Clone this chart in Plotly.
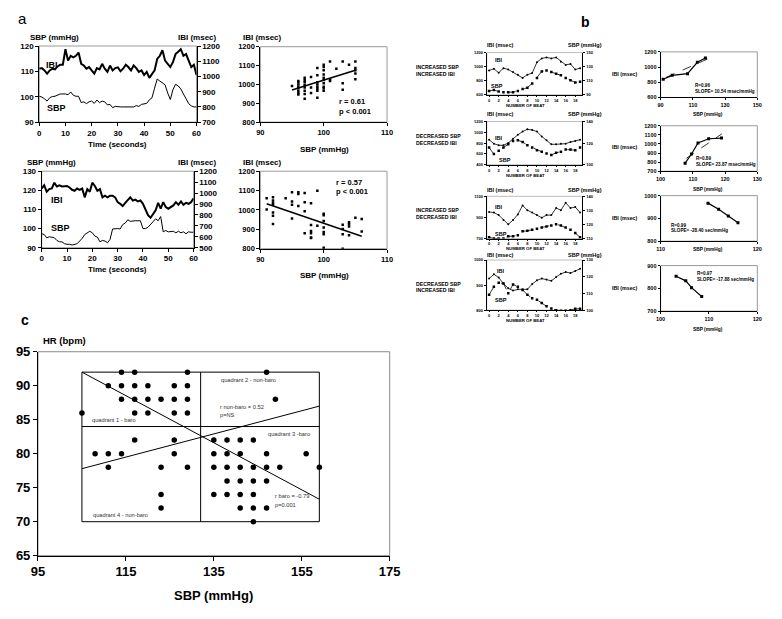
import plotly.graph_objects as go

W, H = 782, 619
FONT = "Liberation Sans, Arial, Helvetica, sans-serif"

# ======================= DATA =======================
# ---- Panel a: time series (1 s samples) ----
a_time = list(range(0, 61))
a_top_ibi = [1051, 1055, 1040, 1019, 1040, 1051, 1047, 1066, 1077, 1077,
             1179, 1104, 1136, 1126, 1136, 1157, 1083, 1072, 1051, 1062,
             1040, 1019, 1055, 1047, 1083, 1051, 1030, 1072, 1040, 1055,
             1060, 1034, 1051, 1077, 1062, 1040, 1072, 1055, 1030, 1040,
             1009, 1030, 991, 1019, 1040, 1115, 1136, 1172, 1104, 1083,
             1062, 1094, 1147, 1162, 1179, 1136, 1147, 1104, 1062, 1077,
             1009]
a_top_sbp = [100.2, 99.9, 99.2, 98.3, 99.6, 100.1, 100.2, 100.8, 101.1, 101.1,
             101.1, 100.8, 101.9, 100.6, 100.2, 100.2, 97.7, 98.0, 97.3, 98.0,
             98.3, 97.4, 98.7, 97.7, 98.3, 98.0, 96.8, 97.0, 95.7, 96.2,
             96.0, 96.0, 96.0, 96.0, 96.0, 96.0, 96.0, 96.5, 96.2, 97.0,
             97.3, 97.4, 98.8, 99.6, 103.4, 107.0, 106.2, 105.3, 104.7, 101.5,
             98.9, 102.8, 104.9, 104.3, 103.1, 101.1, 99.2, 97.3, 96.4, 96.0,
             96.0]
a_bot_ibi = [1042, 1071, 1012, 1036, 1042, 1095, 1060, 1071, 1060, 1060,
             1065, 1051, 1030, 1021, 1042, 1030, 1042, 961, 1036, 1012,
             1095, 1065, 1021, 1036, 961, 976, 961, 976, 976, 961,
             917, 902, 881, 911, 932, 961, 932, 940, 923, 932,
             902, 842, 798, 774, 804, 842, 911, 857, 917, 872,
             857, 872, 887, 917, 893, 923, 893, 911, 902, 917,
             952]
a_bot_sbp = [97.3, 96.9, 95.2, 95.7, 95.5, 95.2, 93.8, 93.1, 93.1, 92.1,
             91.8, 91.8, 91.4, 91.8, 92.1, 93.5, 94.9, 96.9, 97.8, 98.6,
             97.8, 96.1, 95.5, 93.1, 93.8, 93.5, 92.6, 94.3, 99.8, 100.0,
             100.0, 99.8, 102.1, 102.9, 104.6, 103.8, 104.1, 104.1, 104.1, 104.1,
             100.0, 100.0, 100.7, 102.1, 103.4, 105.1, 104.1, 106.3, 98.3, 99.0,
             98.3, 98.3, 98.6, 97.8, 98.6, 97.8, 98.3, 97.3, 98.3, 98.1,
             98.1]

# ---- Panel a: scatter plots ----
a_sc1_sbp = [95, 96, 96, 96, 96, 96, 96, 96, 96, 97, 97, 97, 97, 97, 97, 97, 97,
             98, 98, 98, 99, 99, 99, 99, 99, 99, 99, 99,
             100, 100, 100, 100, 100, 100, 100, 100, 100, 100,
             101, 101, 101, 102, 103, 103, 103, 104, 105, 105, 105, 105, 105]
a_sc1_ibi = [991, 1018, 1011, 1000, 988, 980, 966, 954, 946, 1035, 1023, 1011, 997, 984, 966, 949, 924,
             1040, 984, 954, 1087, 1049, 1011, 1000, 988, 977, 966, 929,
             1104, 1092, 1075, 1052, 1035, 1023, 1006, 988, 980, 966,
             1121, 1028, 1018, 1083, 1121, 1006, 972, 1104, 1121, 1087, 1075, 1058, 1028]
a_sc1_fit_sbp = [95, 105]
a_sc1_fit_ibi = [970, 1075]

a_sc2_sbp = [91, 91, 92, 92, 92, 92, 92, 92, 92, 94, 95, 95, 95, 95, 96, 96, 96,
             97, 97, 97, 97, 98, 98, 98, 98, 98, 98, 99, 99,
             100, 100, 100, 100, 100, 100, 100, 103, 103, 103, 103,
             104, 104, 104, 104, 105, 106, 106]
a_sc2_ibi = [1061, 1003, 1066, 1049, 1037, 1027, 987, 970, 928, 1061, 1091, 1044, 1027, 956, 1092, 1082, 1020,
             1087, 1040, 993, 880, 1035, 922, 892, 880, 858, 855, 1099, 919,
             981, 973, 943, 909, 886, 875, 805, 923, 902, 875, 800,
             936, 926, 914, 869, 960, 953, 889]
a_sc2_fit_sbp = [91, 106]
a_sc2_fit_ibi = [1032, 864]

# ---- Panel b: beat-by-beat sequences ----
b_beat = list(range(0, 20))
b1_ibi = [946, 969, 914, 978, 960, 923, 886, 840, 886, 909, 1062, 1117, 1131, 1117, 1131, 1071, 1025, 1038, 960, 978]
b1_sbp = [95.5, 96.9, 94.6, 93.7, 93.7, 93.7, 95.5, 98.3, 100.2, 106.2, 114.0, 123.2, 124.6, 122.3, 120.0, 117.7, 114.0, 110.8, 107.5, 108.5]
b2_ibi = [863, 790, 760, 760, 802, 881, 953, 1013, 1055, 1043, 1013, 923, 851, 778, 778, 790, 790, 820, 839, 863]
b2_sbp = [115.9, 109.9, 112.9, 115.9, 118.9, 122.0, 122.6, 121.1, 118.0, 115.9, 113.5, 112.0, 110.5, 109.0, 111.1, 112.0, 114.1, 114.1, 113.5, 115.9]
b3_ibi = [952, 946, 922, 875, 835, 875, 928, 1014, 968, 946, 922, 897, 922, 922, 989, 968, 1038, 989, 998, 946]
b3_sbp = [110.9, 110.0, 110.0, 110.0, 111.6, 111.6, 112.3, 115.1, 115.5, 116.2, 116.9, 117.8, 118.5, 119.2, 120.2, 119.2, 117.8, 116.2, 113.9, 110.9]
b4_ibi = [926, 943, 930, 906, 887, 878, 883, 883, 883, 904, 919, 926, 922, 917, 932, 945, 952, 948, 956, 965]
b4_sbp = [109.2, 114.0, 116.4, 116.0, 110.1, 115.4, 114.0, 112.1, 109.2, 107.2, 106.2, 104.3, 102.3, 101.0, 100.0, 99.6, 99.6, 100.0, 100.8, 100.8]
b_conditions = [("INCREASED SBP", "INCREASED IBI"), ("DECREASED SBP", "DECREASED IBI"),
                ("INCREASED SBP", "DECREASED IBI"), ("DECREASED SBP", "INCREASED IBI")]

# ---- Panel b: sequence regressions ----
r1_sbp = [91.6, 97.2, 106.7, 112.8, 117.8]
r1_ibi = [840, 891, 913, 1063, 1119]
r1_fit_sbp = [93.5, 119]
r1_fit_ibi = [865, 1105]
r2_sbp = [107.6, 109.6, 111.6, 114.9, 118.9]
r2_ibi = [789, 889, 1011, 1057, 1064]
r2_fit_sbp = [108, 119]
r2_fit_ibi = [843, 1111]
r3_sbp = [114.9, 116.0, 117.0, 118.0]
r3_ibi = [967, 940, 911, 881]
r4_sbp = [103.2, 105.2, 106.4, 108.5]
r4_ibi = [853, 833, 803, 764]
r_stats = [("R=0.96", "SLOPE= 10.54 msec/mmHg"), ("R=0.89", "SLOPE= 23.87 msec/mmHg"),
           ("R=0.99", "SLOPE= -28.40 sec/mmHg"), ("R=0.97", "SLOPE= -17.88 sec/mmHg")]

# ---- Panel c: HR vs SBP ----
c_sbp = [105,
         108, 111, 114, 126, 135, 138, 141, 147, 156,
         111, 123, 129, 135, 138, 141, 144, 147, 150, 159,
         114, 117, 129, 147,
         111, 114, 117, 120, 126, 129,
         114, 117, 120, 123, 126, 129, 149,
         117, 120, 126, 129,
         117, 126, 135, 138, 141, 144,
         138, 141, 144, 147,
         123, 135, 138, 141, 144,
         123, 141, 144, 147,
         144]
c_hr = [86,
        80, 80, 80, 80, 80, 80, 80, 80, 80,
        78, 78, 78, 78, 78, 78, 78, 78, 78, 78,
        92, 92, 92, 92,
        90, 90, 90, 90, 90, 90,
        88, 88, 88, 88, 88, 88, 88,
        86, 86, 86, 86,
        82, 82, 82, 82, 82, 82,
        76, 76, 76, 76,
        74, 74, 74, 74, 74,
        72, 72, 72, 72,
        70]
c_box_sbp = [105, 159]
c_box_hr = [70, 92]
c_split_sbp = 132
c_split_hr = 84
c_baro_sbp = [105, 159]
c_baro_hr = [92, 73.3]
c_nonbaro_sbp = [105, 159]
c_nonbaro_hr = [77.8, 87.0]

# ---- tick arrays ----
a_time_ticks = [0, 10, 20, 30, 40, 50, 60]
a_top_sbp_ticks = [90, 100, 110, 120]
a_top_ibi_ticks = [700, 800, 900, 1000, 1100, 1200]
a_bot_sbp_ticks = [90, 100, 110, 120, 130]
a_bot_ibi_ticks = [500, 600, 700, 800, 900, 1000, 1100, 1200]
a_sc_sbp_ticks = [90, 100, 110]
a_sc_ibi_ticks = [800, 900, 1000, 1100, 1200]
b_beat_ticks = [0, 2, 4, 6, 8, 10, 12, 14, 16, 18]
b1_ibi_ticks, b1_sbp_ticks = [600, 800, 1000, 1200], [90, 110, 130, 150]
b2_ibi_ticks, b2_sbp_ticks = [400, 600, 800, 1000, 1200], [100, 120, 140]
b3_ibi_ticks, b3_sbp_ticks = [700, 900, 1100], [110, 120, 130, 140]
b4_ibi_ticks, b4_sbp_ticks = [800, 900, 1000], [100, 110, 120, 130]
r1_sbp_ticks, r1_ibi_ticks = [90, 110, 130, 150], [600, 800, 1000, 1200]
r2_sbp_ticks, r2_ibi_ticks = [100, 110, 120, 130], [700, 800, 900, 1000, 1100, 1200]
r3_sbp_ticks, r3_ibi_ticks = [110, 120], [800, 900, 1000]
r4_sbp_ticks, r4_ibi_ticks = [100, 110, 120], [700, 800, 900]
c_sbp_ticks = [95, 115, 135, 155, 175]
c_hr_ticks = [65, 70, 75, 80, 85, 90, 95]

# ======================= LAYOUT HELPERS =======================
def fx(p):
    return p / W


def fy(p):
    return 1 - p / H


layout = dict(width=W, height=H, margin=dict(l=0, r=0, t=0, b=0), autosize=False,
              paper_bgcolor="white", plot_bgcolor="rgba(0,0,0,0)", showlegend=False,
              font=dict(family=FONT, color="black"))
shapes = []
annotations = []
traces = []
counter = {"x": 0, "y": 0}


def ref(kind, n):
    return kind if n == 1 else f"{kind}{n}"


def key(kind, n):
    return f"{kind}axis" if n == 1 else f"{kind}axis{n}"


def axstyle(ticks, size, rng=None, bold=True, ticklen=3, linecolor="black"):
    return dict(showgrid=False, zeroline=False, showline=True, linecolor=linecolor, linewidth=1,
                ticks="outside", ticklen=ticklen, tickwidth=1, tickcolor="black",
                tickmode="array", tickvals=ticks, ticktext=[str(t) for t in ticks],
                range=rng if rng is not None else [ticks[0], ticks[-1]],
                tickfont=dict(family=FONT, size=size, weight="bold" if bold else "normal", color="black"),
                fixedrange=True)


def subplot(box, xt, yt, size, y2t=None, xrng=None, bold=True, ticklen=3, xticklen=None, frame="#9a9a9a"):
    x0, x1, y0, y1 = box
    counter["x"] += 1
    nx = counter["x"]
    counter["y"] += 1
    ny = counter["y"]
    xa = axstyle(xt, size, xrng, bold, ticklen if xticklen is None else xticklen)
    xa.update(domain=[fx(x0), fx(x1)], anchor=ref("y", ny))
    ya = axstyle(yt, size, None, bold, ticklen)
    ya.update(domain=[fy(y1), fy(y0)], anchor=ref("x", nx))
    layout[key("x", nx)] = xa
    layout[key("y", ny)] = ya
    out = [ref("x", nx), ref("y", ny)]
    if y2t is not None:
        counter["y"] += 1
        n2 = counter["y"]
        y2 = axstyle(y2t, size, None, bold, ticklen)
        y2.update(overlaying=ref("y", ny), side="right", anchor=ref("x", nx))
        layout[key("y", n2)] = y2
        out.append(ref("y", n2))
    if frame:
        shapes.append(dict(type="rect", xref="paper", yref="paper", x0=fx(x0), x1=fx(x1),
                           y0=fy(y1), y1=fy(y0), line=dict(color=frame, width=1), layer="below"))
    return out


def ann(x, y, text, size, bold=True, xanchor="left", color="black"):
    annotations.append(dict(x=fx(x), y=fy(y), xref="paper", yref="paper", text=text, showarrow=False,
                            xanchor=xanchor, yanchor="middle",
                            font=dict(family=FONT, size=size, color=color,
                                      weight="bold" if bold else "normal")))


def line(xr, yr, xs, ys, width=1, dash="solid", mode="lines", msym="square", msize=3, color="black"):
    traces.append(go.Scatter(x=xs, y=ys, xaxis=xr, yaxis=yr, mode=mode, hoverinfo="skip",
                             line=dict(color=color, width=width, dash=dash),
                             marker=dict(symbol=msym, size=msize, color=color)))


# ======================= PANEL a =======================
ann(9, 12, "a", 15, bold=False)
# time series top
xr, yl, yr2 = subplot((33, 194, 40, 118), a_time_ticks, a_top_sbp_ticks, 8, a_top_ibi_ticks)
line(xr, yl, a_time, a_top_sbp, width=1)
line(xr, yr2, a_time, a_top_ibi, width=2)
ann(21, 31.5, "SBP (mmHg)", 8)
ann(173, 31.5, "IBI (msec)", 8)
ann(113.5, 141, "Time (seconds)", 8, xanchor="center")
ann(38, 59, "IBI", 9)
ann(39, 104, "SBP", 9)
# time series bottom
xr, yl, yr2 = subplot((35.5, 191, 168.3, 246.7), a_time_ticks, a_bot_sbp_ticks, 8, a_bot_ibi_ticks)
line(xr, yl, a_time, a_bot_sbp, width=1)
line(xr, yr2, a_time, a_bot_ibi, width=2)
ann(18, 159.8, "SBP (mmHg)", 8)
ann(173, 159.8, "IBI (msec)", 8)
ann(113, 269.5, "Time (seconds)", 8, xanchor="center")
ann(43, 198, "IBI", 9)
ann(43, 226.5, "SBP", 9)
# scatter top
xr, yl = subplot((259.3, 389, 40.7, 118), a_sc_sbp_ticks, a_sc_ibi_ticks, 7.5)
line(xr, yl, a_sc1_sbp, a_sc1_ibi, mode="markers", msize=2.5)
line(xr, yl, a_sc1_fit_sbp, a_sc1_fit_ibi, width=1.5)
ann(240, 31.5, "IBI (msec)", 8)
ann(325, 146, "SBP (mmHg)", 8, xanchor="center")
ann(338, 97.3, "r = 0.61", 7.5)
ann(338, 107.3, "p &lt; 0.001", 7.5)
# scatter bottom
xr, yl = subplot((259.3, 389, 168.3, 247.7), a_sc_sbp_ticks, a_sc_ibi_ticks, 7.5)
line(xr, yl, a_sc2_sbp, a_sc2_ibi, mode="markers", msize=2.5)
line(xr, yl, a_sc2_fit_sbp, a_sc2_fit_ibi, width=1.5)
ann(240, 159.8, "IBI (msec)", 8)
ann(325, 275, "SBP (mmHg)", 8, xanchor="center")
ann(335, 180, "r = 0.57", 7.5)
ann(335, 189.3, "p &lt; 0.001", 7.5)

# ======================= PANEL b =======================
ann(592, 15, "b", 14, xanchor="center")
b_boxes = [(491, 589, 46.7, 90), (491, 589, 117.3, 161.7), (491, 589, 194, 237.3), (491, 589, 259.3, 310.7)]
b_ibi_sets = [b1_ibi, b2_ibi, b3_ibi, b4_ibi]
b_sbp_sets = [b1_sbp, b2_sbp, b3_sbp, b4_sbp]
b_ibi_tk = [b1_ibi_ticks, b2_ibi_ticks, b3_ibi_ticks, b4_ibi_ticks]
b_sbp_tk = [b1_sbp_ticks, b2_sbp_ticks, b3_sbp_ticks, b4_sbp_ticks]
b_title_y = [39, 110, 187.3, 253.8]
b_cond_y = [62, 132, 208.5, 283.5]
b_ibi_lab = [(497, 54.3), (497, 134.3), (497, 205), (500, 270.7)]
b_sbp_lab = [(493, 81), (502, 156.7), (497, 232.3), (497, 300.7)]
for i in range(4):
    xr, yl, yr2 = subplot(b_boxes[i], b_beat_ticks, b_ibi_tk[i], 4, b_sbp_tk[i], xrng=[-0.5, 19.5],
                          ticklen=2, xticklen=1, frame="#bdbdbd")
    line(xr, yl, b_beat, b_ibi_sets[i], width=0.8, mode="lines+markers", msym="circle", msize=2)
    line(xr, yr2, b_beat, b_sbp_sets[i], width=0.8, dash="dash", mode="lines+markers", msym="square", msize=2.5)
    ann(489, b_title_y[i], "IBI (msec)", 5.5)
    ann(572, b_title_y[i], "SBP (mmHg)", 5.5)
    ann(531, b_boxes[i][3] + 10.5, "NUMBER OF BEAT", 4.3, xanchor="center")
    ann(417, b_cond_y[i], b_conditions[i][0], 5.2)
    ann(417, b_cond_y[i] + 7, b_conditions[i][1], 5.2)
    ann(b_ibi_lab[i][0], b_ibi_lab[i][1], "IBI", 5.5)
    ann(b_sbp_lab[i][0], b_sbp_lab[i][1], "SBP", 5.5)

r_boxes = [(669, 768, 46, 92.7), (669, 768, 121.7, 168.3), (669, 768, 193.3, 240), (669, 768, 265, 311.7)]
r_sbp_tk = [r1_sbp_ticks, r2_sbp_ticks, r3_sbp_ticks, r4_sbp_ticks]
r_ibi_tk = [r1_ibi_ticks, r2_ibi_ticks, r3_ibi_ticks, r4_ibi_ticks]
r_sbp_sets = [r1_sbp, r2_sbp, r3_sbp, r4_sbp]
r_ibi_sets = [r1_ibi, r2_ibi, r3_ibi, r4_ibi]
r_fits = [(r1_fit_sbp, r1_fit_ibi), (r2_fit_sbp, r2_fit_ibi), None, None]
r_ylab = [69, 143, 216.5, 288]
r_xlab = [(718, 110), (718, 186.7), (718, 248.5), (718, 330.7)]
r_stat_pos = [(702, 80.7), (703, 155.7), (678, 224), (704, 273.3)]
for i in range(4):
    xr, yl = subplot(r_boxes[i], r_sbp_tk[i], r_ibi_tk[i], 5.5, ticklen=2, frame="#9a9a9a")
    if r_fits[i] is not None:
        line(xr, yl, r_fits[i][0], r_fits[i][1], width=0.8, dash="dash")
    line(xr, yl, r_sbp_sets[i], r_ibi_sets[i], width=1.2, mode="lines+markers", msym="square", msize=3)
    ann(617, r_ylab[i], "IBI (msec)", 5.3)
    ann(r_xlab[i][0], r_xlab[i][1], "SBP (mmHg)", 4.8, xanchor="center")
    ann(r_stat_pos[i][0], r_stat_pos[i][1], r_stats[i][0], 4.6)
    ann(r_stat_pos[i][0], r_stat_pos[i][1] + 5.5, r_stats[i][1], 4.6)

# ======================= PANEL c =======================
ann(12, 321, "c", 14)
xr, yl = subplot((31.7, 391.7, 353.3, 562.3), c_sbp_ticks, c_hr_ticks, 13, ticklen=4, frame="#8a8a8a")
shapes.append(dict(type="rect", xref=xr, yref=yl, x0=c_box_sbp[0], x1=c_box_sbp[1],
                   y0=c_box_hr[0], y1=c_box_hr[1], line=dict(color="black", width=1)))
shapes.append(dict(type="line", xref=xr, yref=yl, x0=c_split_sbp, x1=c_split_sbp,
                   y0=c_box_hr[0], y1=c_box_hr[1], line=dict(color="black", width=1)))
shapes.append(dict(type="line", xref=xr, yref=yl, x0=c_box_sbp[0], x1=c_box_sbp[1],
                   y0=c_split_hr, y1=c_split_hr, line=dict(color="black", width=1)))
line(xr, yl, c_baro_sbp, c_baro_hr, width=1)
line(xr, yl, c_nonbaro_sbp, c_nonbaro_hr, width=1)
line(xr, yl, c_sbp, c_hr, mode="markers", msym="circle", msize=5.5)
ann(35, 341.7, "HR (bpm)", 9.5)
ann(211.7, 603.5, "SBP (mmHg)", 13, xanchor="center")
qc = "#333333"
ann(85, 423.3, "quadrant 1 - baro", 5.7, bold=False, color=qc)
ann(86, 520.7, "quadrant 4 - non-baro", 5.7, bold=False, color=qc)
ann(216.7, 382.7, "quadrant 2 - non-baro", 5.7, bold=False, color=qc)
ann(216, 410, "r non-baro = 0.52", 5.7, bold=False, color=qc)
ann(216, 418.3, "p=NS", 5.7, bold=False, color=qc)
ann(265, 437.7, "quadrant 3 -baro", 5.7, bold=False, color=qc)
ann(272.3, 501, "r baro = -0.79", 5.7, bold=False, color=qc)
ann(272.3, 510, "p=0.001", 5.7, bold=False, color=qc)

layout["shapes"] = shapes
layout["annotations"] = annotations
fig = go.Figure(data=traces, layout=layout)
fig.write_html("out.html", config={"displayModeBar": False, "staticPlot": True},
               post_script="document.body.style.margin='0px';document.body.style.overflow='hidden';")
